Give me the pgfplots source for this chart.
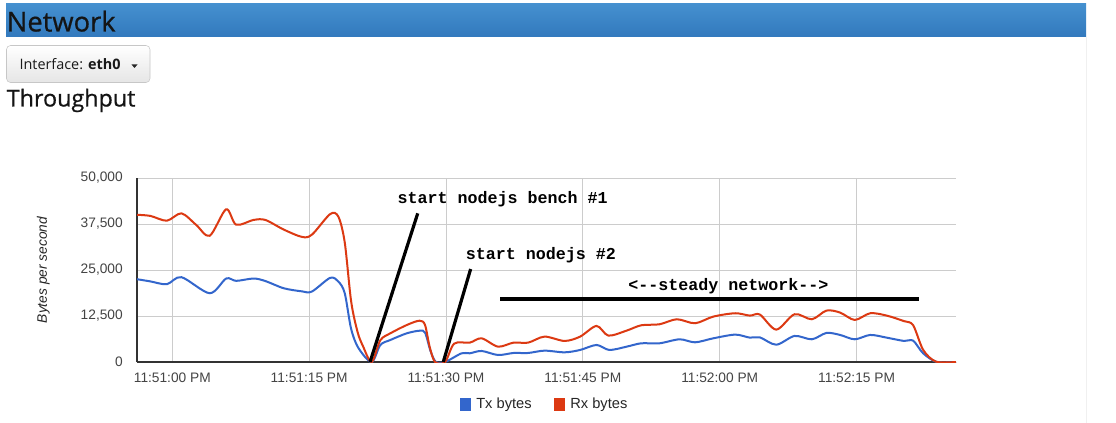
\documentclass[border=0pt]{standalone}
\usepackage{fontspec}
\setmainfont{Liberation Sans}
\newfontfamily\hdr{Open Sans}
\newfontfamily\hdrx{Open Sans}[FakeBold=0.6]
\newfontfamily\mono{Liberation Mono}
\usepackage{pgfplots}
\pgfplotsset{compat=1.18}
\definecolor{txblue}{HTML}{3366CC}
\definecolor{rxred}{HTML}{DC3912}
\definecolor{barTop}{HTML}{4590CF}
\definecolor{barBot}{HTML}{3279BD}
\definecolor{gridgray}{HTML}{CCCCCC}
\definecolor{axisdark}{HTML}{333333}
\definecolor{ticktext}{HTML}{444444}

\begin{document}
\begin{tikzpicture}
% page header, in screen pixels (y down)
\begin{scope}[x=0.75pt,y=-0.75pt]
\path[fill=white,use as bounding box] (0,0) rectangle (1116,423);
\draw[black!6] (1086,37) -- (1086,423);
\shade[top color=barTop,bottom color=barBot] (6,4) rectangle (1086,37);
\node[anchor=base west,inner sep=0pt,text=black!92] at (6.5,31.5) {\hdrx\fontsize{20.5}{24}\selectfont Network};
\shade[top color=white,bottom color=black!10,draw=black!22,rounded corners=3pt] (6.5,45.5) rectangle (150,82.5);
\node[anchor=base west,inner sep=0pt,text=black!90] at (19.3,70) {\hdr\fontsize{10.8}{13}\selectfont Interface: \bfseries eth0};
\fill[black!85] (131.5,64.5) -- (137.5,64.5) -- (134.5,68) -- cycle;
\node[anchor=base west,inner sep=0pt,text=black!92] at (6.5,106.5) {\hdrx\fontsize{17.5}{21}\selectfont Throughput};
\node[rotate=90,inner sep=0pt,text=black!85] at (43.3,270) {\fontsize{10.3}{12}\selectfont\itshape Bytes per second};
\end{scope}

\begin{axis}[
  at={(102.75pt,-271.5pt)}, anchor=south west,
  scale only axis, width=614.25pt, height=138pt,
  xmin=-3.87, xmax=85.9, ymin=0, ymax=50000,
  axis x line*=bottom, axis y line*=left,
  axis line style={-,axisdark,line width=0.8pt},
  xtick={0,15,30,45,60,75},
  xticklabels={11:51:00 PM,11:51:15 PM,11:51:30 PM,11:51:45 PM,11:52:00 PM,11:52:15 PM},
  ytick={0,12500,25000,37500,50000},
  yticklabels={0,{12,500},{25,000},{37,500},{50,000}},
  scaled y ticks=false,
  major tick length=0pt,
  grid=major, grid style={gridgray,line width=0.75pt},
  ticklabel style={font=\fontsize{10.3}{12}\selectfont,text=ticktext,inner sep=0pt},
  xticklabel style={anchor=north,yshift=-8.25pt},
  yticklabel style={anchor=east,xshift=-10.5pt},
  legend columns=2,
  legend style={at={(0.5,-0.165)},anchor=north,draw=none,fill=none,
    font=\fontsize{11}{13}\selectfont,text=black!85,
    nodes={inner xsep=4pt},
    /tikz/every even column/.append style={column sep=13pt}},
  legend image code/.code={\fill[#1,draw=none] (-2pt,-4.7pt) rectangle (6pt,4.7pt);},
]
\addplot[txblue,line width=1.5pt,smooth] coordinates {
(-3.87,22500) (-2.4,21900) (-0.6,21140) (1.0,23050) (4.1,18690) (5.9,22685)
(7.0,22050) (8.9,22685) (10.2,22000) (12.2,20050) (14.2,19200) (15.3,19146)
(17.3,22866) (18.2,21870) (18.9,18690) (19.6,9000) (20.4,3800) (21.85,0)
(22.8,4620) (23.9,5980) (25.7,7800) (27.1,8500) (27.7,8000) (28.3,3000)
(28.9,0) (29.9,0) (31.7,2360) (32.6,2360) (33.9,3000) (35.7,1900) (37.4,2450)
(39.0,2450) (40.8,3085) (43.0,2630) (44.7,3270) (46.5,4630) (47.9,3270)
(49.8,4170) (51.4,5080) (53.4,5080) (55.6,6170) (57.3,5350) (59.3,6440)
(61.7,7440) (63.3,6620) (64.4,6700) (66.2,4700) (68.2,7080) (70.1,6170)
(71.7,7900) (73.2,7350) (74.8,6170) (76.5,7350) (78.3,6620) (80.2,5720)
(81.2,5800) (82.3,2360) (83.8,0) (85.9,0)};
\addlegendentry{Tx bytes}
\addplot[rxred,line width=1.5pt,smooth] coordinates {
(-3.87,40000) (-2.4,39700) (-0.6,38400) (1.0,40400) (2.6,37300) (4.1,34300)
(5.9,41500) (7.0,37300) (8.9,38600) (10.2,38600) (12.2,36000) (14.2,34000)
(15.3,34600) (17.3,40200) (18.2,39500) (18.9,32500) (19.6,16500) (20.3,8200)
(20.9,4300) (21.85,0) (22.8,5900) (23.9,7800) (25.7,10050) (27.1,11230)
(27.7,10050) (28.2,4200) (28.8,0) (29.9,0) (30.9,5000) (32.6,5260) (33.9,6440)
(35.7,4170) (37.4,5260) (39.0,5260) (40.8,6900) (43.0,5720) (44.7,6900)
(46.5,9800) (47.8,7170) (49.8,8530) (51.4,9980) (53.4,10250) (55.3,11615)
(57.3,10530) (59.3,12340) (61.7,13250) (63.3,12610) (64.4,12900) (66.2,8800)
(68.2,12980) (70.1,11615) (71.7,13975) (73.2,13430) (74.8,11430) (76.5,13250)
(78.3,12610) (80.2,11100) (81.2,10000) (82.3,3300) (83.7,100) (85.9,0)};
\addlegendentry{Rx bytes}
% hand-drawn annotations
\addplot[black,line width=2.4pt,forget plot] coordinates {(21.67,0) (26.9,40400)};
\addplot[black,line width=2.4pt,forget plot] coordinates {(29.7,0) (32.7,25270)};
\addplot[black,line width=2.8pt,forget plot] coordinates {(35.92,17040) (81.86,17040)};
\node[anchor=base west,inner sep=0pt,font=\mono\bfseries\fontsize{12.5}{14}\selectfont] at (axis cs:24.66,43125) {start nodejs bench \#1};
\node[anchor=base west,inner sep=0pt,font=\mono\bfseries\fontsize{12.5}{14}\selectfont] at (axis cs:32.15,27720) {start nodejs \#2};
\node[anchor=base west,inner sep=0pt,font=\mono\bfseries\fontsize{12.5}{14}\selectfont] at (axis cs:49.97,19565) {<-{}-steady network-{}->};
\end{axis}
\end{tikzpicture}
\end{document}
